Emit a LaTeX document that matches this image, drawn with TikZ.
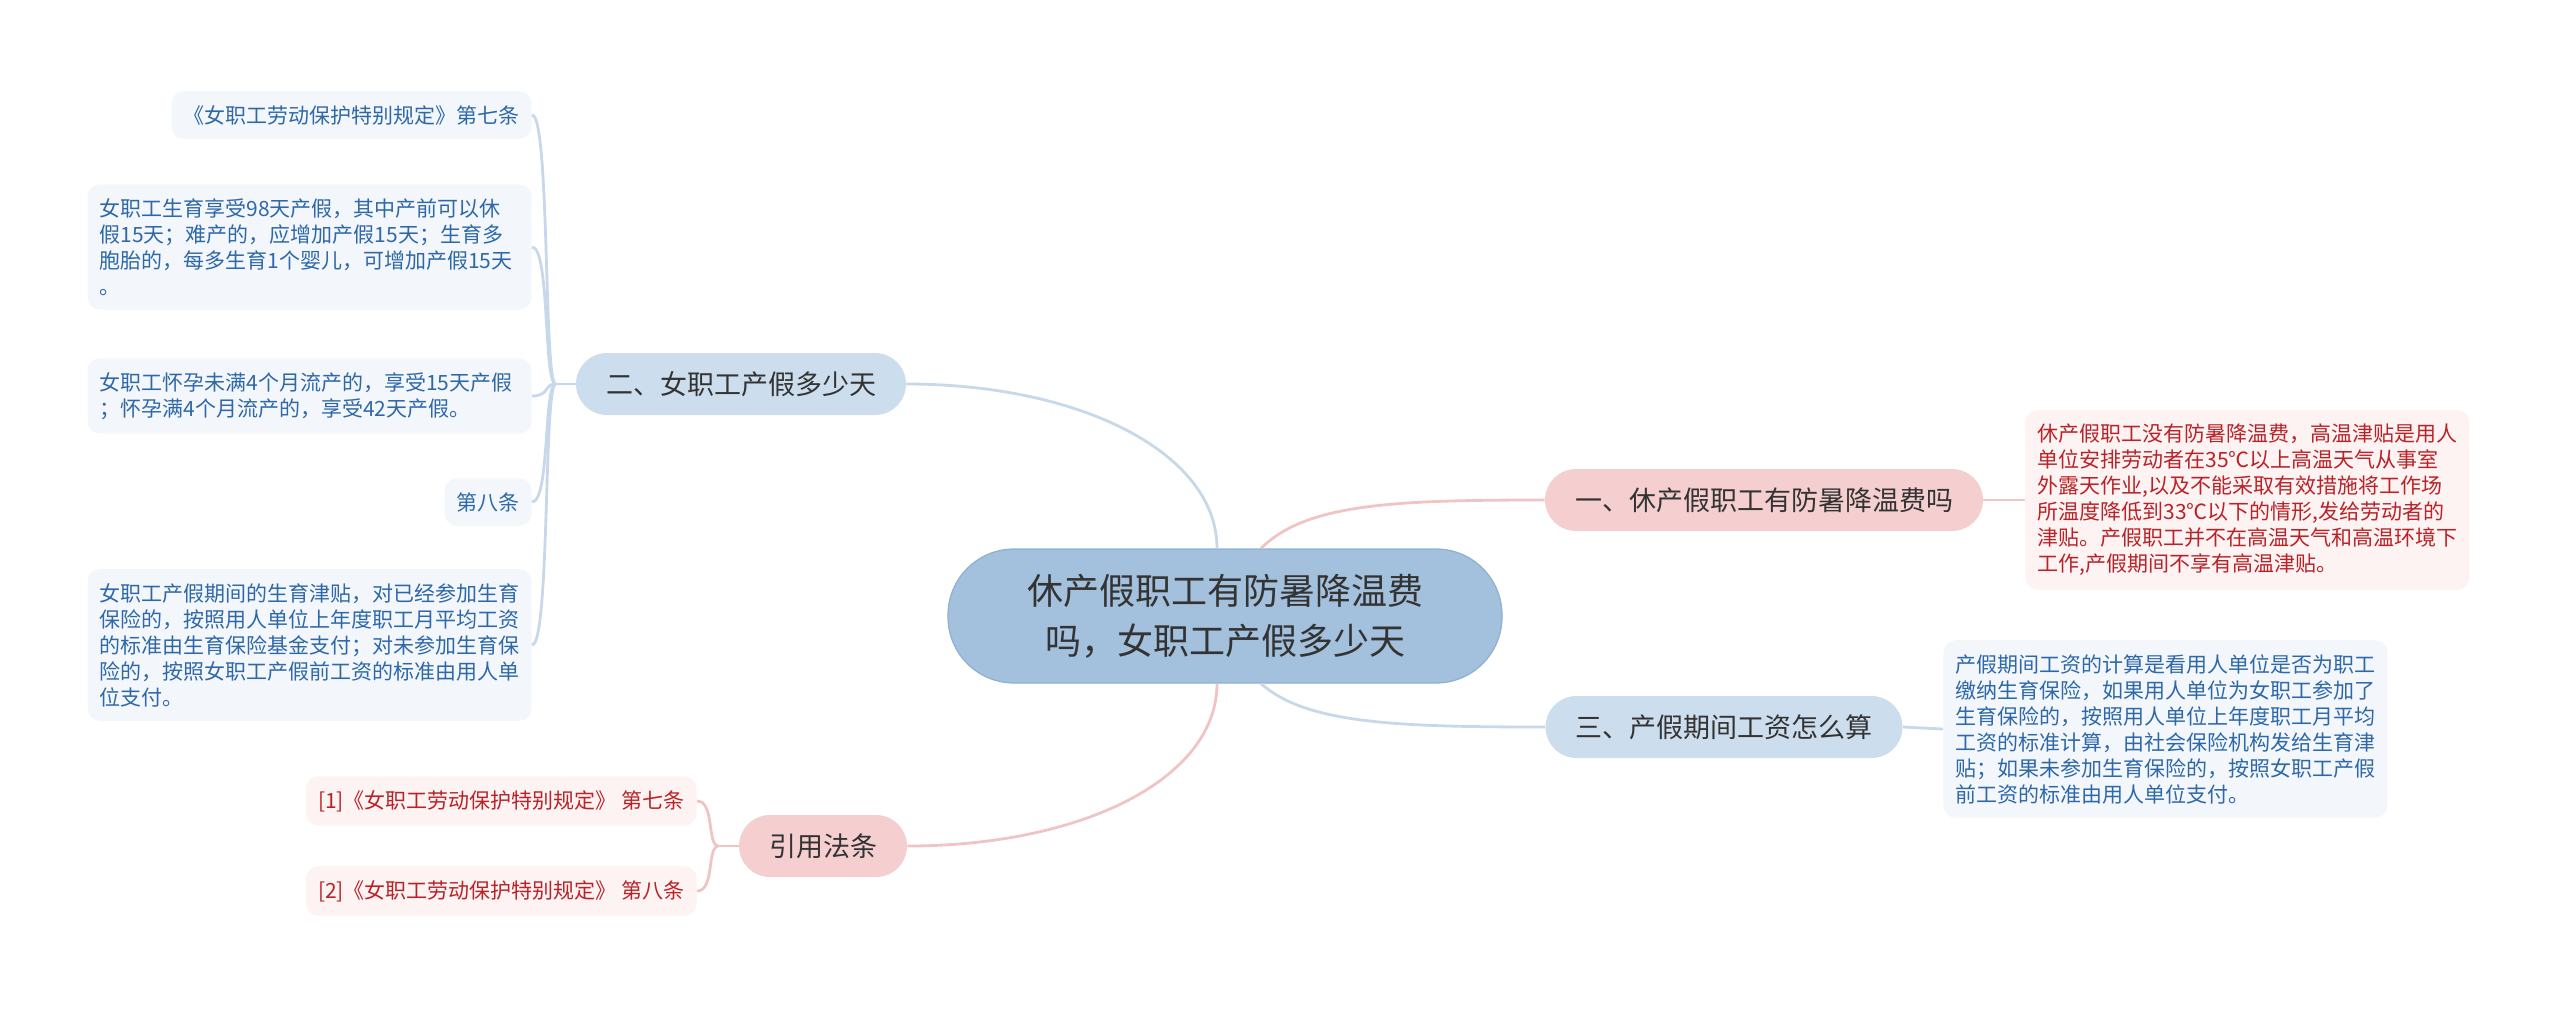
\documentclass[tikz,border=0pt]{standalone}
\usepackage{fontspec}
\setmainfont{Noto Sans CJK SC}
\usepackage{xcolor}
\usepackage{tikz}
\usetikzlibrary{positioning, calc}
\definecolor{rootfill}{RGB}{163, 192, 220}
\definecolor{rootdraw}{RGB}{143, 176, 208}
\definecolor{bluetopicfill}{RGB}{204, 221, 237}
\definecolor{pinktopicfill}{RGB}{245, 207, 207}
\definecolor{blueleaffill}{RGB}{243, 247, 252}
\definecolor{pinkleaffill}{RGB}{253, 243, 243}
\definecolor{leaftextblue}{RGB}{46, 104, 168}
\definecolor{leaftextred}{RGB}{185, 35, 40}
\definecolor{darktext}{RGB}{51, 51, 51}
\definecolor{blueline}{RGB}{198, 216, 234}
\definecolor{pinkline}{RGB}{240, 196, 196}

\tikzset{
  rootnode/.style={fill=rootfill, draw=rootdraw, line width=0.6pt, rounded corners=33pt,
    minimum width=277pt, minimum height=67pt, align=center, text=darktext,
    font=\fontsize{18pt}{25pt}\selectfont},
  topic/.style={rounded corners=15.5pt, minimum height=31pt, inner xsep=15pt,
    text=darktext, font=\fontsize{13.5pt}{16pt}\selectfont},
  topicblue/.style={topic, fill=bluetopicfill},
  topicpink/.style={topic, fill=pinktopicfill},
  leaf/.style={rounded corners=6pt, inner xsep=6pt, inner ysep=7pt, align=left,
    font=\fontsize{10.5pt}{13pt}\selectfont},
  leafblue/.style={leaf, fill=blueleaffill, text=leaftextblue},
  leafred/.style={leaf, fill=pinkleaffill, text=leaftextred},
  widebox/.style={text width=210pt},
  bluelink/.style={draw=blueline, line width=1.4pt},
  pinklink/.style={draw=pinkline, line width=1.4pt}
}

\begin{document}
\begin{tikzpicture}[x=0.5pt, y=-0.5pt]
  \useasboundingbox (0,0) rectangle (2560,1008);

  % centre and main topics
  \node[rootnode] (root) at (1225,616) {休产假职工有防暑降温费\\吗，女职工产假多少天};
  \node[topicblue] (leave) at (741,384) {二、女职工产假多少天};
  \node[topicpink] (cool) at (1764,500) {一、休产假职工有防暑降温费吗};
  \node[topicblue] (wage) at (1724,727) {三、产假期间工资怎么算};
  \node[topicpink] (laws) at (823,846) {引用法条};

  % leaves of topic two
  \node[leafblue, anchor=east] (art7) at (532,115) {《女职工劳动保护特别规定》第七条};
  \node[leafblue, widebox, anchor=east] (days) at (532,247)
    {女职工生育享受98天产假，其中产前可以休\\假15天；难产的，应增加产假15天；生育多\\胞胎的，每多生育1个婴儿，可增加产假15天\\。};
  \node[leafblue, widebox, anchor=east] (loss) at (532,396)
    {女职工怀孕未满4个月流产的，享受15天产假\\；怀孕满4个月流产的，享受42天产假。};
  \node[leafblue, anchor=east] (art8) at (532,502) {第八条};
  \node[leafblue, widebox, anchor=east] (allow) at (532,645)
    {女职工产假期间的生育津贴，对已经参加生育\\保险的，按照用人单位上年度职工月平均工资\\的标准由生育保险基金支付；对未参加生育保\\险的，按照女职工产假前工资的标准由用人单\\位支付。};

  % leaves on the right
  \node[leafred, widebox, anchor=west] (heat) at (2025,500)
    {休产假职工没有防暑降温费，高温津贴是用人\\单位安排劳动者在35℃以上高温天气从事室\\外露天作业,以及不能采取有效措施将工作场\\所温度降低到33℃以下的情形,发给劳动者的\\津贴。产假职工并不在高温天气和高温环境下\\工作,产假期间不享有高温津贴。};
  \node[leafblue, widebox, anchor=west] (calc) at (1943,729)
    {产假期间工资的计算是看用人单位是否为职工\\缴纳生育保险，如果用人单位为女职工参加了\\生育保险的，按照用人单位上年度职工月平均\\工资的标准计算，由社会保险机构发给生育津\\贴；如果未参加生育保险的，按照女职工产假\\前工资的标准由用人单位支付。};

  % cited laws
  \node[leafred, anchor=east] (cite1) at (697,801) {[1]《女职工劳动保护特别规定》 第七条};
  \node[leafred, anchor=east] (cite2) at (697,891) {[2]《女职工劳动保护特别规定》 第八条};

  % links from the centre
  \draw[bluelink] ($(root.north)+(-8,0)$) .. controls +(0,-95) and +(175,0) .. (leave.east);
  \draw[pinklink] ($(root.north)+(36,0)$) .. controls +(45,-45) and +(-150,0) .. (cool.west);
  \draw[bluelink] ($(root.south)+(36,0)$) .. controls +(45,40) and +(-150,0) .. (wage.west);
  \draw[pinklink] ($(root.south)+(-8,0)$) .. controls +(0,95) and +(175,0) .. (laws.east);

  % brackets to the leaves
  \coordinate (jleave) at ($(leave.west)+(-20,0)$);
  \draw[bluelink] (leave.west) -- (jleave);
  \foreach \leafname in {art7, days, loss, art8, allow}
    \draw[bluelink] (jleave) .. controls +(-12,0) and +(18,0) .. (\leafname.east);
  \coordinate (jlaws) at ($(laws.west)+(-20,0)$);
  \draw[pinklink] (laws.west) -- (jlaws);
  \foreach \leafname in {cite1, cite2}
    \draw[pinklink] (jlaws) .. controls +(-12,0) and +(18,0) .. (\leafname.east);
  \draw[pinklink] (cool.east) -- (heat.west);
  \draw[bluelink] (wage.east) -- (calc.west);
\end{tikzpicture}
\end{document}
